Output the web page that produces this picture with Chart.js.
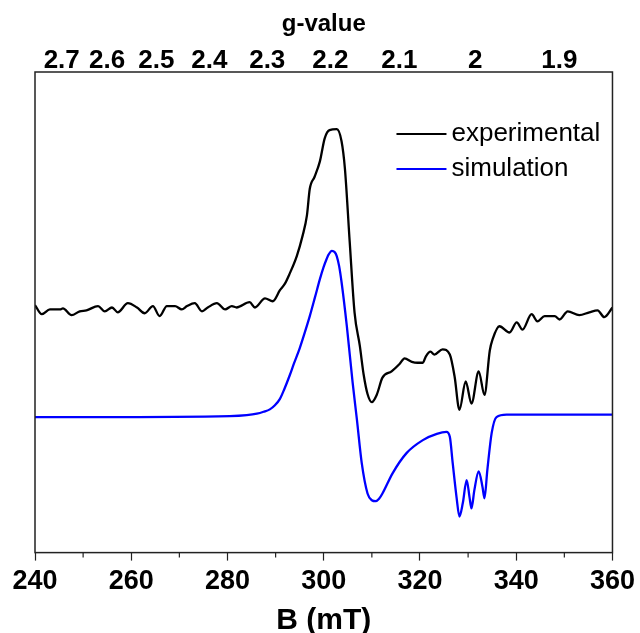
<!DOCTYPE html>
<html lang="en">
<head>
    <meta charset="UTF-8">
    <title>EPR spectrum</title>
    <script src="https://cdn.jsdelivr.net/npm/chart.js"></script>
    <style>
        body { margin: 0; background: #fff; }
        #wrap { width: 640px; height: 633px; }
    </style>
</head>
<body>
<div id="wrap"><canvas id="eprChart"></canvas></div>

<script>
    // field axis (mT) and signal (arbitrary units, plot range 0..100)
    const expField = [240.0, 241.4, 243.1, 245.2, 245.8, 247.6, 249.3, 250.7, 253.1, 254.5, 256.0, 257.2, 259.3, 261.2,
        262.8, 264.5, 265.9, 267.4, 269.1, 270.5, 271.6, 273.2, 274.7, 275.9, 277.8, 279.5, 280.9, 281.9, 284.6, 285.7,
        287.8, 289.4, 290.9, 291.9, 292.9, 294.4, 295.6, 296.5, 297.1, 298.1, 299.2, 300.2, 301.2, 302.7, 303.7, 304.4,
        305.4, 306.4, 307.5, 308.3, 309.1, 310.0, 311.0, 312.2, 314.1, 315.8, 316.8, 318.3, 319.5, 320.6, 321.2, 322.2,
        323.0, 324.7, 326.2, 327.2, 328.2, 329.5, 330.7, 332.2, 333.4, 334.5, 335.1, 336.5, 338.6, 340.1, 341.3, 343.2,
        344.4, 345.9, 348.0, 349.0, 350.7, 353.1, 355.2, 356.9, 358.3, 360.0];
    const expSignal = [51.5, 49.6, 50.6, 50.6, 50.8, 49.4, 50.2, 50.4, 51.3, 50.2, 51.0, 50.0, 51.9, 51.0,
        49.8, 51.3, 49.2, 51.3, 51.3, 50.6, 51.3, 51.9, 50.2, 51.0, 51.9, 50.6, 51.3, 51.0, 52.1, 51.0,
        52.9, 52.3, 54.6, 55.9, 58.0, 61.7, 65.9, 70.1, 75.7, 78.2, 81.4, 86.2, 87.9, 88.1, 85.6, 79.9,
        64.6, 50.0, 43.0, 37.0, 33.0, 31.3, 32.8, 36.4, 37.7, 39.3, 40.4, 39.7, 39.5, 39.5, 40.8, 41.8,
        41.2, 42.3, 41.2, 36.6, 29.7, 35.6, 31.0, 37.7, 32.8, 42.0, 44.4, 47.1, 45.8, 47.9, 46.4, 49.6,
        48.1, 49.2, 49.2, 48.5, 50.2, 49.4, 50.0, 50.4, 49.0, 51.0];

    const simField = [240, 252.9, 280.5, 284.0, 286.1, 287.5, 288.8, 289.8, 290.9, 291.8, 292.9, 293.8, 295.0, 296.0,
        297.1, 298.2, 299.2, 300.0, 300.6, 301.0, 301.7, 302.3, 302.7, 303.2, 303.7, 304.8, 306.0, 306.9, 307.9, 309.1,
        310.0, 310.8, 311.5, 312.2, 314.3, 317.2, 320.6, 323.5, 325.5, 326.2, 326.8, 327.6, 328.2, 328.9, 329.7, 330.3,
        330.7, 331.3, 332.2, 333.0, 333.4, 334.0, 334.9, 335.9, 338.0, 360];
    const simSignal = [28.2, 28.2, 28.4, 28.6, 28.9, 29.3, 29.8, 30.6, 32.0, 34.0, 36.8, 39.3, 42.5, 45.6,
        49.2, 53.2, 56.9, 59.5, 61.1, 62.0, 62.8, 62.5, 61.7, 59.6, 56.3, 47.1, 35.4, 27.6, 18.6, 12.3,
        10.9, 10.7, 11.2, 12.3, 16.5, 20.7, 23.4, 24.7, 25.1, 24.1, 18.6, 11.5, 7.5, 10.3, 15.1, 11.5,
        9.2, 13.0, 16.9, 13.6, 11.3, 17.2, 24.9, 28.2, 28.7, 28.7];

    // g-value tick labels on the top axis, B = hv/(g*muB)
    const gTicks = [2.7, 2.6, 2.5, 2.4, 2.3, 2.2, 2.1, 2.0, 1.9];
    const hvOverMuB = 663; // mT

    const FONT = "'Liberation Sans', Arial, sans-serif";

    // box around the plot + minor ticks on the field axis
    const framePlugin = {
        id: 'frame',
        afterDraw(chart) {
            const ctx = chart.ctx;
            const a = chart.chartArea;
            ctx.save();
            ctx.strokeStyle = '#222';
            ctx.lineWidth = 1.5;
            ctx.strokeRect(a.left, a.top, a.right - a.left, a.bottom - a.top);
            const xs = chart.scales.x;
            ctx.lineWidth = 1.2;
            for (let v = 250; v < 360; v += 20) {
                const px = xs.getPixelForValue(v);
                ctx.beginPath();
                ctx.moveTo(px, a.bottom);
                ctx.lineTo(px, a.bottom + 5);
                ctx.stroke();
            }
            ctx.restore();
        }
    };

    // legend drawn inside the plot, top right
    const legendPlugin = {
        id: 'insideLegend',
        afterDraw(chart) {
            const ctx = chart.ctx;
            const a = chart.chartArea;
            ctx.save();
            ctx.font = '26px ' + FONT;
            ctx.textBaseline = 'middle';
            chart.data.datasets.forEach((ds, i) => {
                const y = a.top + 62 + i * 35;
                const x0 = a.right - 216;
                ctx.strokeStyle = ds.borderColor;
                ctx.lineWidth = 2;
                ctx.beginPath();
                ctx.moveTo(x0, y);
                ctx.lineTo(x0 + 50, y);
                ctx.stroke();
                ctx.fillStyle = '#000';
                ctx.fillText(ds.label, x0 + 55, y);
            });
            ctx.restore();
        }
    };

    const ctx = document.getElementById('eprChart').getContext('2d');
    new Chart(ctx, {
        type: 'line',
        data: {
            datasets: [
                {
                    label: 'experimental',
                    data: expField.map((b, i) => ({ x: b, y: expSignal[i] })),
                    borderColor: '#000000',
                    borderWidth: 2.3,
                    pointRadius: 0,
                    cubicInterpolationMode: 'monotone',
                    fill: false
                },
                {
                    label: 'simulation',
                    data: simField.map((b, i) => ({ x: b, y: simSignal[i] })),
                    borderColor: '#0000ff',
                    borderWidth: 2.3,
                    pointRadius: 0,
                    cubicInterpolationMode: 'monotone',
                    fill: false
                }
            ]
        },
        options: {
            responsive: true,
            maintainAspectRatio: false,
            animation: false,
            layout: { padding: { left: 35, right: 27, top: 10, bottom: -6 } },
            plugins: {
                legend: { display: false },
                tooltip: { enabled: false }
            },
            scales: {
                x: {
                    type: 'linear',
                    position: 'bottom',
                    min: 240,
                    max: 360,
                    border: { display: false },
                    grid: { drawOnChartArea: false, drawTicks: true, tickLength: 8, tickColor: '#222', tickWidth: 1.2 },
                    ticks: {
                        stepSize: 20,
                        color: '#000',
                        padding: 5,
                        maxRotation: 0,
                        font: { family: FONT, size: 27, weight: 'bold' }
                    },
                    title: {
                        display: true,
                        text: 'B (mT)',
                        color: '#000',
                        padding: { top: 0, bottom: 0 },
                        font: { family: FONT, size: 30, weight: 'bold' }
                    }
                },
                x2: {
                    type: 'linear',
                    position: 'top',
                    min: 240,
                    max: 360,
                    border: { display: false },
                    grid: { drawOnChartArea: false, drawTicks: false },
                    afterBuildTicks: scale => {
                        scale.ticks = gTicks.map(g => ({ value: hvOverMuB / g }));
                    },
                    ticks: {
                        autoSkip: false,
                        maxRotation: 0,
                        color: '#000',
                        padding: -4,
                        font: { family: FONT, size: 26, weight: 'bold' },
                        callback: value => String(Number((hvOverMuB / value).toFixed(1)))
                    },
                    title: {
                        display: true,
                        text: 'g-value',
                        color: '#000',
                        padding: { top: 0, bottom: 10 },
                        font: { family: FONT, size: 24, weight: 'bold' }
                    }
                },
                y: {
                    display: false,
                    min: 0,
                    max: 100
                }
            }
        },
        plugins: [framePlugin, legendPlugin]
    });
</script>
</body>
</html>
